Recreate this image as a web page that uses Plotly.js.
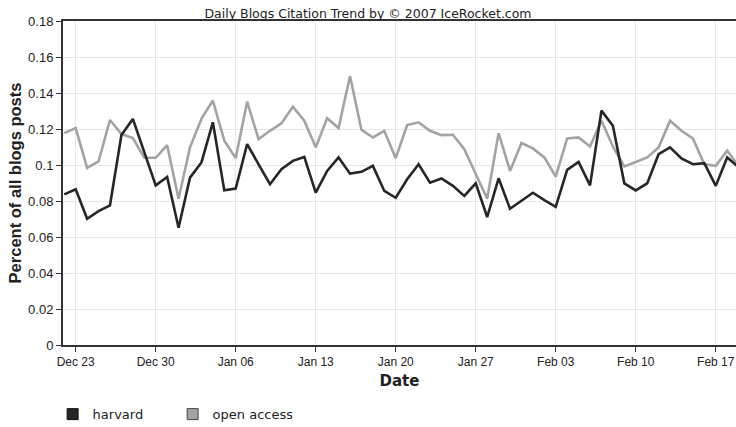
<!DOCTYPE html>
<html>
<head>
<meta charset="utf-8">
<script src="https://cdn.plot.ly/plotly-3.0.1.min.js"></script>
<style>html,body{margin:0;padding:0;background:#fff;}#chart{width:736px;height:427px;}</style>
</head>
<body>
<div id="chart"></div>
<script>
var dates = ['2006-12-22','2006-12-23','2006-12-24','2006-12-25','2006-12-26','2006-12-27','2006-12-28','2006-12-29','2006-12-30','2006-12-31',
'2007-01-01','2007-01-02','2007-01-03','2007-01-04','2007-01-05','2007-01-06','2007-01-07','2007-01-08','2007-01-09','2007-01-10',
'2007-01-11','2007-01-12','2007-01-13','2007-01-14','2007-01-15','2007-01-16','2007-01-17','2007-01-18','2007-01-19','2007-01-20',
'2007-01-21','2007-01-22','2007-01-23','2007-01-24','2007-01-25','2007-01-26','2007-01-27','2007-01-28','2007-01-29','2007-01-30',
'2007-01-31','2007-02-01','2007-02-02','2007-02-03','2007-02-04','2007-02-05','2007-02-06','2007-02-07','2007-02-08','2007-02-09',
'2007-02-10','2007-02-11','2007-02-12','2007-02-13','2007-02-14','2007-02-15','2007-02-16','2007-02-17','2007-02-18','2007-02-19'];

var harvard = [0.0837,0.0865,0.0701,0.0744,0.0776,0.1166,0.1256,0.1070,0.0887,0.0934,
0.0651,0.0930,0.1014,0.1237,0.0859,0.0869,0.1116,0.1004,0.0893,0.0977,
0.1023,0.1045,0.0846,0.0967,0.1042,0.0952,0.0962,0.0995,0.0856,0.0818,
0.0921,0.1004,0.0902,0.0925,0.0884,0.0828,0.0898,0.0711,0.0926,0.0757,
0.0800,0.0846,0.0805,0.0768,0.0973,0.1017,0.0887,0.1302,0.1218,0.0898,
0.0859,0.0898,0.1060,0.1098,0.1036,0.1004,0.1010,0.0884,0.1042,0.0987];

var openAccess = [0.1177,0.1205,0.0984,0.1020,0.1250,0.1172,0.1150,0.1040,0.1040,0.1110,
0.0813,0.1098,0.1256,0.1358,0.1135,0.1038,0.1352,0.1144,0.1190,0.1231,
0.1324,0.1246,0.1098,0.1260,0.1205,0.1494,0.1196,0.1153,0.1190,0.1038,
0.1222,0.1237,0.1190,0.1166,0.1168,0.1088,0.0950,0.0813,0.1177,0.0967,
0.1122,0.1092,0.1042,0.0936,0.1148,0.1153,0.1103,0.1246,0.1103,0.0992,
0.1017,0.1042,0.1098,0.1246,0.1190,0.1148,0.1004,0.0995,0.1079,0.0995];

var seriesNames = ['harvard', 'open access'];
var seriesColors = ['#262626', '#a3a3a3'];

var traces = [
  {x: dates, y: openAccess, type: 'scatter', mode: 'lines', name: seriesNames[1],
   line: {color: seriesColors[1], width: 2.6}, showlegend: false, hoverinfo: 'x+y'},
  {x: dates, y: harvard, type: 'scatter', mode: 'lines', name: seriesNames[0],
   line: {color: seriesColors[0], width: 2.6}, showlegend: false, hoverinfo: 'x+y'},
  {x: [dates[0]], y: [null], type: 'scatter', mode: 'markers', name: seriesNames[0],
   marker: {symbol: 'square', size: 11, color: seriesColors[0], line: {color: '#111', width: 1}}, showlegend: true},
  {x: [dates[0]], y: [null], type: 'scatter', mode: 'markers', name: seriesNames[1],
   marker: {symbol: 'square', size: 11, color: seriesColors[1], line: {color: '#444', width: 1}}, showlegend: true}
];

var layout = {
  width: 736, height: 427,
  margin: {l: 63, r: 0, t: 21, b: 82},
  paper_bgcolor: '#fff', plot_bgcolor: '#fff',
  font: {family: 'Liberation Sans, Arial, sans-serif', size: 13, color: '#222'},
  title: {text: 'Daily Blogs Citation Trend by © 2007 IceRocket.com',
          font: {family: 'DejaVu Sans, sans-serif', size: 12.5, color: '#222'},
          x: 0.5, xref: 'container', xanchor: 'center', y: 0.968, yref: 'container', yanchor: 'middle'},
  xaxis: {
    type: 'date',
    range: ['2006-12-21 21:20', '2007-02-18 18:30'],
    tick0: '2006-12-23', dtick: 7 * 86400000,
    tickformat: '%b %d',
    ticks: 'outside', ticklen: 5, tickcolor: '#333', tickwidth: 1,
    showgrid: true, gridcolor: '#e6e6e6', gridwidth: 1,
    showline: true, linecolor: '#333', linewidth: 2, mirror: true,
    zeroline: false,
    tickfont: {family: 'Liberation Sans, Arial, sans-serif', size: 12, color: '#222'},
    title: {text: '<b>Date</b>', font: {family: 'DejaVu Sans, sans-serif', size: 15, color: '#222'}, standoff: 7},
    automargin: false
  },
  yaxis: {
    range: [0, 0.18], dtick: 0.02, tick0: 0,
    ticks: 'outside', ticklen: 5, tickcolor: '#333', tickwidth: 1,
    showgrid: true, gridcolor: '#e6e6e6', gridwidth: 1,
    showline: true, linecolor: '#333', linewidth: 2,
    zeroline: false,
    tickfont: {family: 'Liberation Sans, Arial, sans-serif', size: 13, color: '#222'},
    title: {text: '<b>Percent of all blogs posts</b>', font: {family: 'Liberation Sans, Arial, sans-serif', size: 16.5, color: '#222'}, standoff: 2},
    automargin: false
  },
  legend: {
    orientation: 'h', x: 0.0715, xref: 'container', xanchor: 'left',
    y: 0.03, yref: 'container', yanchor: 'middle',
    font: {family: 'DejaVu Sans, sans-serif', size: 13, color: '#222'},
    entrywidth: 75, entrywidthmode: 'pixels',
    itemsizing: 'trace', bgcolor: 'rgba(0,0,0,0)'
  },
  showlegend: true
};

Plotly.newPlot('chart', traces, layout, {displayModeBar: false, staticPlot: true});
</script>
</body>
</html>
